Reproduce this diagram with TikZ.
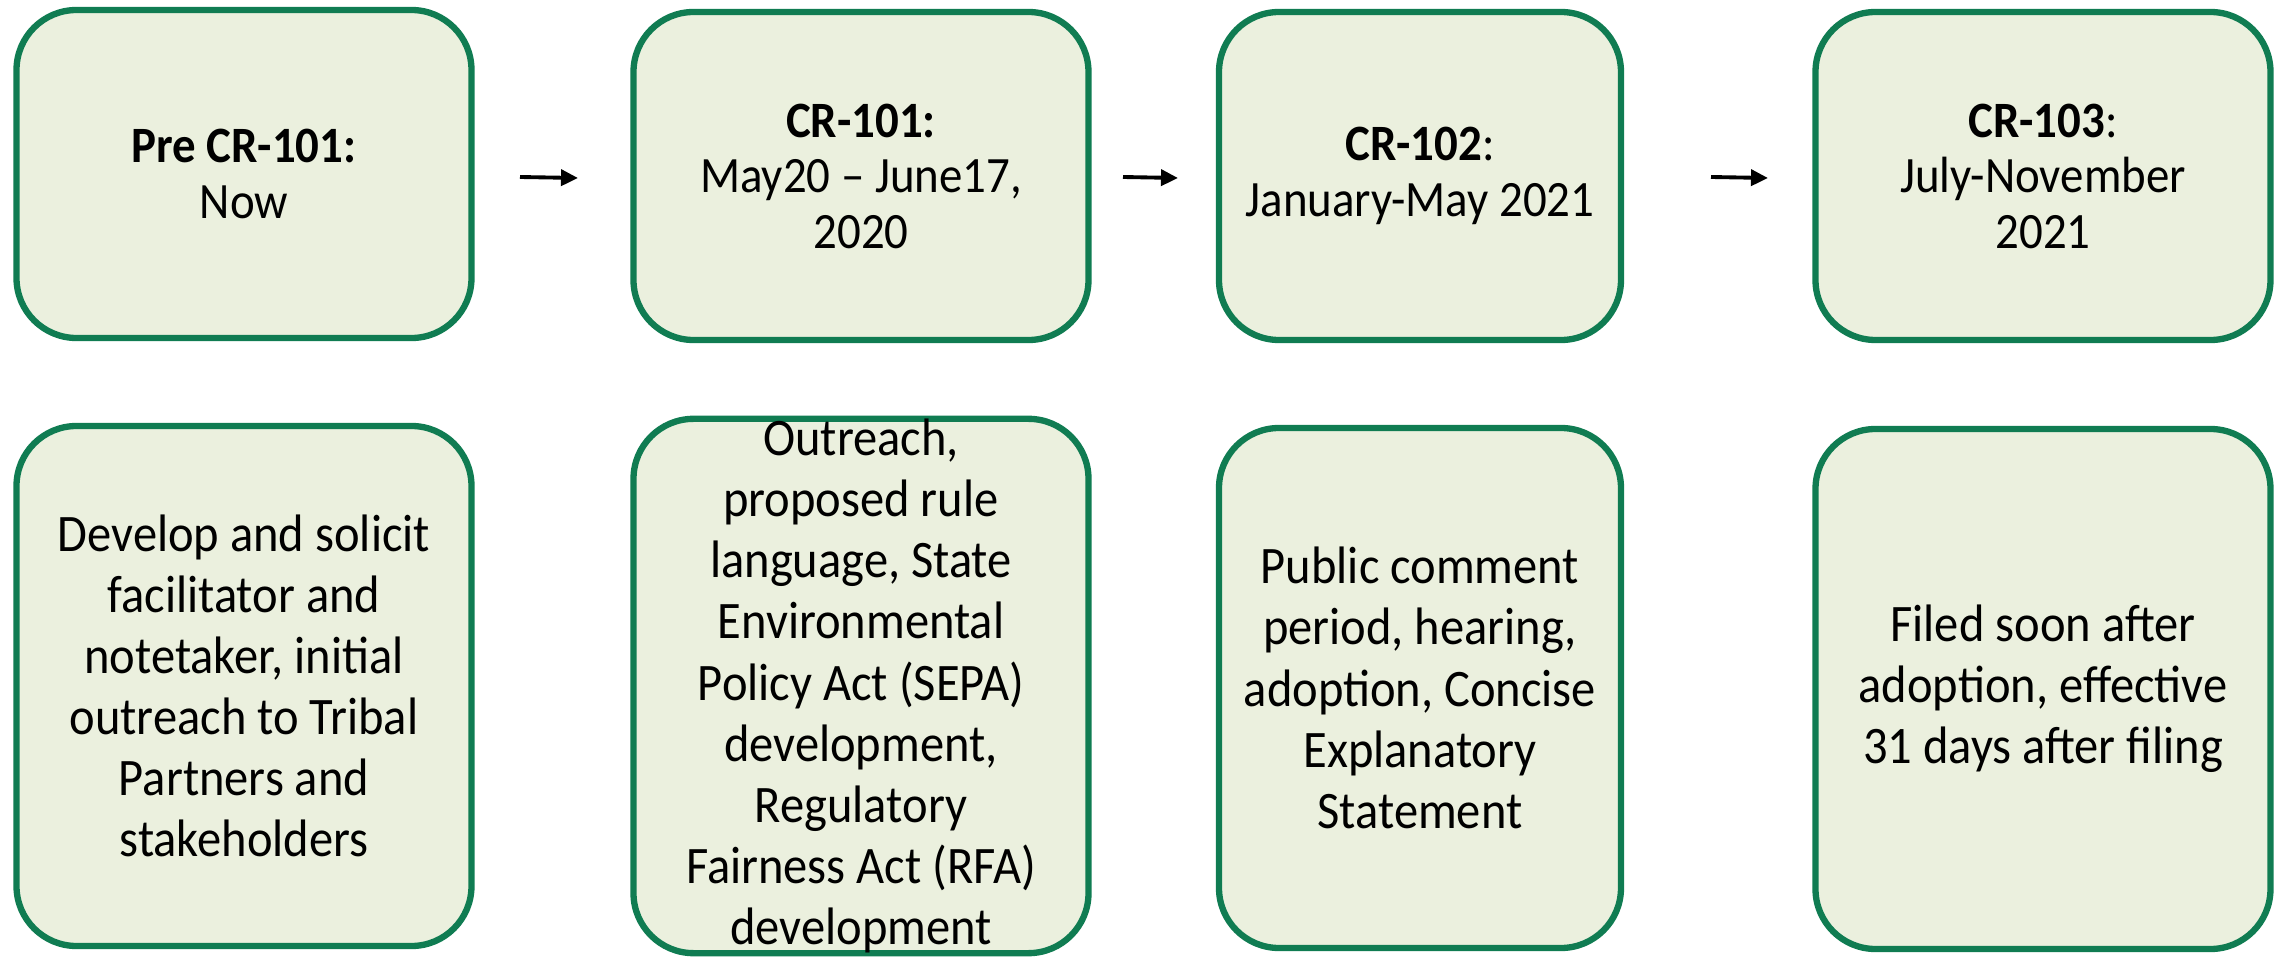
\documentclass[tikz,border=0pt]{standalone}
\usepackage{fontspec}
\setmainfont{Carlito}[FakeStretch=0.92]
\usepackage{tikz}
\usetikzlibrary{arrows.meta}

\definecolor{boxline}{RGB}{16,124,82}
\definecolor{boxfill}{RGB}{235,240,222}

\begin{document}
\begin{tikzpicture}[
    stage/.style={draw=boxline, fill=boxfill, line width=1.8pt,
      rounded corners=0.6cm, inner sep=0pt, align=center,
      minimum width=4.55cm, minimum height=3.28cm,
      font=\fontsize{14.5}{15.8}\selectfont},
    task/.style={stage, minimum height=5.2cm,
      font=\fontsize{15}{17.4}\selectfont},
    narrow/.style={minimum width=4.02cm},
    flow/.style={-{Triangle[length=0.17cm,width=0.16cm]}, line width=1.1pt}
  ]
     \useasboundingbox (0,0) rectangle (22.79,-9.59);
     % timeline
     \node[stage]        (pre)  at ( 2.44,-1.74) {\textbf{Pre CR-101:}\\Now};
     \node[stage]        (c101) at ( 8.61,-1.76) {\textbf{CR-101:}\\May20 – June17,\\2020};
     \node[stage,narrow] (c102) at (14.20,-1.76) {\textbf{CR-102}:\\January-May 2021};
     \node[stage]        (c103) at (20.43,-1.76) {\textbf{CR-103}:\\July-November\\2021};
     % what happens in each stage
     \node[task]         (tpre)  at ( 2.44,-6.86) {Develop and solicit\\facilitator and\\notetaker, initial\\outreach to Tribal\\Partners and\\stakeholders};
     \node[task]         (t101)  at ( 8.61,-6.86) {Outreach,\\proposed rule\\language, State\\Environmental\\Policy Act (SEPA)\\development,\\Regulatory\\Fairness Act (RFA)\\development};
     \node[task,narrow]  (t102)  at (14.20,-6.88) {Public comment\\period, hearing,\\adoption, Concise\\Explanatory\\Statement};
     \node[task]         (t103)  at (20.43,-6.89) {Filed soon after\\adoption, effective\\31 days after filing};
     % arrows between stages
     \coordinate (a1s) at ( 5.20,-1.77);
     \coordinate (a1e) at ( 5.78,-1.78);
     \coordinate (a2s) at (11.23,-1.77);
     \coordinate (a2e) at (11.78,-1.78);
     \coordinate (a3s) at (17.11,-1.77);
     \coordinate (a3e) at (17.68,-1.78);
     \draw[flow] (a1s) -- (a1e);
     \draw[flow] (a2s) -- (a2e);
     \draw[flow] (a3s) -- (a3e);
\end{tikzpicture}
\end{document}
